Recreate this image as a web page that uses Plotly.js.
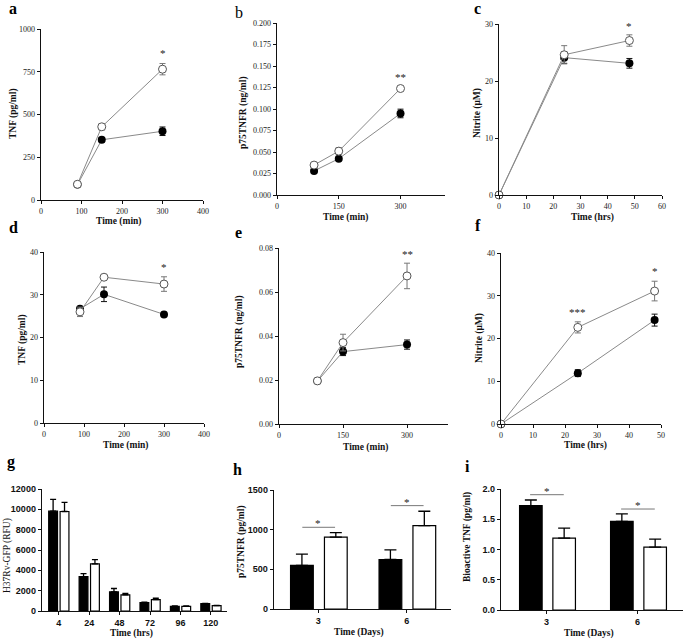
<!DOCTYPE html>
<html><head><meta charset="utf-8">
<script src="https://cdn.plot.ly/plotly-3.0.1.min.js"></script>
<style>body{margin:0;background:#fff}#chart{width:685px;height:642px}</style>
</head><body><div id="chart"></div>
<script>
const W = 685, H = 642;

// ---------- Data ----------
// a: TNF (pg/ml) vs Time (min)
const aTime = [90, 150, 300];
const aFilled = [90, 352, 402];
const aFilledErr = [8, 12, 25];
const aOpen = [92, 428, 765];
const aOpenErr = [10, 18, 33];
const aStars = [{x: 300, y: 860, t: '*'}];

// b: p75TNFR (ng/ml) vs Time (min)
const bTime = [90, 150, 300];
const bFilled = [0.028, 0.0422, 0.0948];
const bFilledErr = [0.001, 0.0015, 0.005];
const bOpen = [0.0348, 0.051, 0.1238];
const bOpenErr = [0.001, 0.004, 0.001];
const bStars = [{x: 300, y: 0.137, t: '**'}];

// c: Nitrite (uM) vs Time (hrs)
const cTime = [0, 24, 48];
const cFilled = [0, 24.1, 23.1];
const cFilledErr = [0, 1.0, 0.85];
const cOpen = [0, 24.6, 27.1];
const cOpenErr = [0, 1.6, 1.0];
const cStars = [{x: 48, y: 29.6, t: '*'}];

// d: TNF (pg/ml) vs Time (min)
const dTime = [90, 150, 300];
const dFilled = [26.7, 30.1, 25.4];
const dFilledErr = [0.5, 1.7, 0.5];
const dOpen = [26.0, 34.1, 32.5];
const dOpenErr = [1.1, 0.3, 1.7];
const dStars = [{x: 300, y: 36.4, t: '*'}];

// e: p75TNFR (ng/ml) vs Time (min)
const eTime = [90, 150, 300];
const eFilled = [0.0195, 0.0329, 0.0361];
const eFilledErr = [0.0005, 0.0018, 0.0021];
const eOpen = [0.0196, 0.037, 0.0673];
const eOpenErr = [0.0005, 0.0038, 0.0058];
const eStars = [{x: 300, y: 0.0772, t: '**'}];

// f: Nitrite (uM) vs Time (hrs)
const fTime = [0, 24, 48];
const fFilled = [0, 11.9, 24.3];
const fFilledErr = [0, 0.8, 1.4];
const fOpen = [0, 22.6, 31.1];
const fOpenErr = [0, 1.3, 2.3];
const fStars = [{x: 24, y: 26.3, t: '***'}, {x: 48, y: 35.8, t: '*'}];

// g: H37Rv-GFP (RFU) vs Time (hrs)
const gCategories = ['4', '24', '48', '72', '96', '120'];
const gFilled = [9818, 3372, 1884, 826, 463, 727];
const gFilledErr = [1157, 297, 331, 40, 30, 30];
const gOpen = [9785, 4628, 1587, 1124, 463, 529];
const gOpenErr = [893, 430, 132, 132, 30, 30];

// h: p75TNFR (pg/ml) vs Time (Days)
const hCategories = ['3', '6'];
const hFilled = [549, 624];
const hFilledErr = [142, 122];
const hOpen = [905, 1051];
const hOpenErr = [58, 181];
const hSigLevel = [1030, 1303];

// i: Bioactive TNF (pg/ml) vs Time (Days)
const iCategories = ['3', '6'];
const iFilled = [1.724, 1.464];
const iFilledErr = [0.094, 0.126];
const iOpen = [1.188, 1.039];
const iOpenErr = [0.166, 0.132];
const iSigLevel = [1.906, 1.669];

// ---------- Helpers ----------
const SERIF = 'Liberation Serif, Times New Roman, serif';
const SANS = 'Liberation Sans, Arial, sans-serif';
const xd = (p0, p1) => [p0 / W, p1 / W];
const yd = (p0, p1) => [1 - p1 / H, 1 - p0 / H];

const baseAxis = {
  showline: true, linecolor: '#111', linewidth: 1.3,
  ticks: 'outside', ticklen: 3, tickwidth: 1, tickcolor: '#111',
  showgrid: false, zeroline: false, fixedrange: true
};
const serifTick = {family: SERIF, size: 8, color: '#222'};
const sansTick = {family: SANS, size: 9, color: '#111', weight: 'bold'};

const traces = [];
const annotations = [];
const shapes = [];
const layout = {
  width: W, height: H, margin: {l: 0, r: 0, t: 0, b: 0},
  paper_bgcolor: '#fff', plot_bgcolor: '#fff', showlegend: false,
  barmode: 'overlay', annotations, shapes
};

function linePanel(n, time, filled, filledErr, open, openErr, stars) {
  const xa = 'x' + (n === 1 ? '' : n), ya = 'y' + (n === 1 ? '' : n);
  traces.push({
    x: time, y: filled, xaxis: xa, yaxis: ya, type: 'scatter', mode: 'lines+markers',
    line: {color: '#8a8a8a', width: 1}, marker: {size: 8, color: '#000'},
    error_y: {type: 'data', array: filledErr, color: '#111', thickness: 1, width: 3},
    cliponaxis: false, hoverinfo: 'skip'
  });
  traces.push({
    x: time, y: open, xaxis: xa, yaxis: ya, type: 'scatter', mode: 'lines+markers',
    line: {color: '#8a8a8a', width: 1},
    marker: {size: 8, color: '#fff', line: {color: '#555', width: 1}},
    error_y: {type: 'data', array: openErr, color: '#777', thickness: 1, width: 3},
    cliponaxis: false, hoverinfo: 'skip'
  });
  stars.forEach(s => annotations.push({
    xref: xa, yref: ya, x: s.x, y: s.y, text: s.t, showarrow: false,
    font: {family: SERIF, size: 11, color: '#222'}
  }));
}

function barPanel(n, cats, filled, filledErr, open, openErr, style) {
  const xa = 'x' + n, ya = 'y' + n;
  const idx = cats.map((c, k) => k);
  traces.push({
    type: 'bar', x: idx, y: filled, xaxis: xa, yaxis: ya,
    width: style.w, offset: style.of,
    marker: {color: '#000', line: {color: '#000', width: 1.2}},
    error_y: {type: 'data', symmetric: false, array: filledErr, arrayminus: filled.map(() => 0),
      color: '#000', thickness: 1.3, width: style.cap},
    hoverinfo: 'skip'
  });
  traces.push({
    type: 'bar', x: idx, y: open, xaxis: xa, yaxis: ya,
    width: style.w, offset: style.oo,
    marker: {color: '#fff', line: {color: '#000', width: 1.2}},
    error_y: {type: 'data', symmetric: false, array: openErr, arrayminus: open.map(() => 0),
      color: '#000', thickness: 1.3, width: style.cap},
    hoverinfo: 'skip'
  });
  return idx;
}

// ---------- Line panels ----------
linePanel(1, aTime, aFilled, aFilledErr, aOpen, aOpenErr, aStars);
layout.xaxis = {...baseAxis, domain: xd(41, 203), range: [0, 400], dtick: 100, anchor: 'y', tickfont: serifTick};
layout.yaxis = {...baseAxis, domain: yd(29, 200), range: [0, 1000], dtick: 250, anchor: 'x', tickfont: serifTick};

linePanel(2, bTime, bFilled, bFilledErr, bOpen, bOpenErr, bStars);
layout.xaxis2 = {...baseAxis, domain: xd(277, 445), range: [0, 408], tickvals: [0, 150, 300], anchor: 'y2', tickfont: serifTick};
layout.yaxis2 = {...baseAxis, domain: yd(23, 195), range: [0, 0.2], dtick: 0.025, tickformat: '.3f', anchor: 'x2', tickfont: serifTick};

linePanel(3, cTime, cFilled, cFilledErr, cOpen, cOpenErr, cStars);
layout.xaxis3 = {...baseAxis, domain: xd(499, 662), range: [0, 60], dtick: 10, anchor: 'y3', tickfont: serifTick};
layout.yaxis3 = {...baseAxis, domain: yd(24, 195), range: [0, 30], dtick: 10, anchor: 'x3', tickfont: serifTick};

linePanel(4, dTime, dFilled, dFilledErr, dOpen, dOpenErr, dStars);
layout.xaxis4 = {...baseAxis, domain: xd(44, 204), range: [0, 400], dtick: 100, anchor: 'y4', tickfont: serifTick};
layout.yaxis4 = {...baseAxis, domain: yd(252, 423), range: [0, 40], dtick: 10, anchor: 'x4', tickfont: serifTick};

linePanel(5, eTime, eFilled, eFilledErr, eOpen, eOpenErr, eStars);
layout.xaxis5 = {...baseAxis, domain: xd(279, 448), range: [0, 396], tickvals: [0, 150, 300], anchor: 'y5', tickfont: serifTick};
layout.yaxis5 = {...baseAxis, domain: yd(248, 424), range: [0, 0.08], dtick: 0.02, tickformat: '.2f', anchor: 'x5', tickfont: serifTick};

linePanel(6, fTime, fFilled, fFilledErr, fOpen, fOpenErr, fStars);
layout.xaxis6 = {...baseAxis, domain: xd(501, 661), range: [0, 50], dtick: 10, anchor: 'y6', tickfont: serifTick};
layout.yaxis6 = {...baseAxis, domain: yd(253, 424), range: [0, 40], dtick: 10, anchor: 'x6', tickfont: serifTick};

// ---------- Bar panels ----------
const gIdx = barPanel(7, gCategories, gFilled, gFilledErr, gOpen, gOpenErr, {w: 0.29, of: -0.33, oo: 0.045, cap: 3});
layout.xaxis7 = {...baseAxis, domain: xd(42, 227), range: [-0.55, 5.53], tickvals: gIdx, ticktext: gCategories, anchor: 'y7', tickfont: sansTick};
layout.yaxis7 = {...baseAxis, domain: yd(489, 611), range: [0, 12000], dtick: 2000, tickformat: 'd', anchor: 'x7', tickfont: sansTick};

const hIdx = barPanel(8, hCategories, hFilled, hFilledErr, hOpen, hOpenErr, {w: 0.257, of: -0.313, oo: 0.07, cap: 6});
layout.xaxis8 = {...baseAxis, domain: xd(274, 451), range: [-0.5, 1.5], tickvals: hIdx, ticktext: hCategories, anchor: 'y8', tickfont: sansTick};
layout.yaxis8 = {...baseAxis, domain: yd(490, 609), range: [0, 1500], dtick: 500, tickformat: 'd', anchor: 'x8', tickfont: sansTick};

const iIdx = barPanel(9, iCategories, iFilled, iFilledErr, iOpen, iOpenErr, {w: 0.248, of: -0.296, oo: 0.07, cap: 6});
layout.xaxis9 = {...baseAxis, domain: xd(501, 683), range: [-0.5, 1.5], tickvals: iIdx, ticktext: iCategories, anchor: 'y9', tickfont: sansTick};
layout.yaxis9 = {...baseAxis, domain: yd(489, 610), range: [0, 2], dtick: 0.5, tickformat: '.1f', anchor: 'x9', tickfont: sansTick};

// significance brackets for h and i
[[8, hIdx, hSigLevel], [9, iIdx, iSigLevel]].forEach(([n, idx, lev]) => {
  idx.forEach((k, j) => {
    shapes.push({type: 'line', xref: 'x' + n, yref: 'y' + n, x0: k - 0.18, x1: k + 0.19,
      y0: lev[j], y1: lev[j], line: {color: '#777', width: 1}});
    annotations.push({xref: 'x' + n, yref: 'y' + n, x: k, y: lev[j], yanchor: 'bottom', yshift: -4,
      text: '*', showarrow: false, font: {family: SERIF, size: 11, color: '#222'}});
  });
});

// ---------- Titles ----------
const xTitles = [
  ['Time (min)', 118, 222], ['Time (min)', 345, 218], ['Time (hrs)', 592, 218],
  ['Time (min)', 126, 445], ['Time (min)', 365, 447], ['Time (hrs)', 585, 445],
  ['Time (hrs)', 131, 633], ['Time (Days)', 359, 632], ['Time (Days)', 589, 633]
];
xTitles.forEach(([t, x, y]) => annotations.push({
  xref: 'paper', yref: 'paper', x: x / W, y: 1 - y / H, text: t, showarrow: false,
  xanchor: 'center', yanchor: 'middle',
  font: {family: SERIF, size: 9.5, color: '#111', weight: 'bold'}
}));
const yTitles = [
  ['TNF (pg/ml)', 13, 114, true], ['p75TNFR (ng/ml)', 243, 112, true], ['Nitrite (\u03bcM)', 478, 113, true],
  ['TNF (pg/ml)', 23, 340, true], ['p75TNFR (ng/ml)', 240, 332, true], ['Nitrite (\u03bcM)', 480, 338, true],
  ['H37Rv-GFP (RFU)', 7, 556, false], ['p75TNFR (pg/ml)', 241, 542, true], ['Bioactive TNF (pg/ml)', 467, 537, true]
];
yTitles.forEach(([t, x, y, b]) => annotations.push({
  xref: 'paper', yref: 'paper', x: x / W, y: 1 - y / H, text: t, showarrow: false,
  textangle: -90, xanchor: 'center', yanchor: 'middle',
  font: {family: SERIF, size: 9.5, color: '#111', weight: b ? 'bold' : 'normal'}
}));
const panelLabels = [
  ['a', 7, 9, true], ['b', 233, 12, false], ['c', 472, 9, true],
  ['d', 7, 227, true], ['e', 233, 232, true], ['f', 473, 226, true],
  ['g', 5, 462, true], ['h', 231, 469, true], ['i', 463, 466, true]
];
panelLabels.forEach(([t, x, cy, b]) => annotations.push({
  xref: 'paper', yref: 'paper', x: x / W, y: 1 - cy / H, text: t, showarrow: false,
  xanchor: 'left', yanchor: 'middle',
  font: {family: SERIF, size: 16, color: '#000', weight: b ? 'bold' : 'normal'}
}));

Plotly.newPlot('chart', traces, layout, {staticPlot: true, displayModeBar: false});
</script>
</body></html>
